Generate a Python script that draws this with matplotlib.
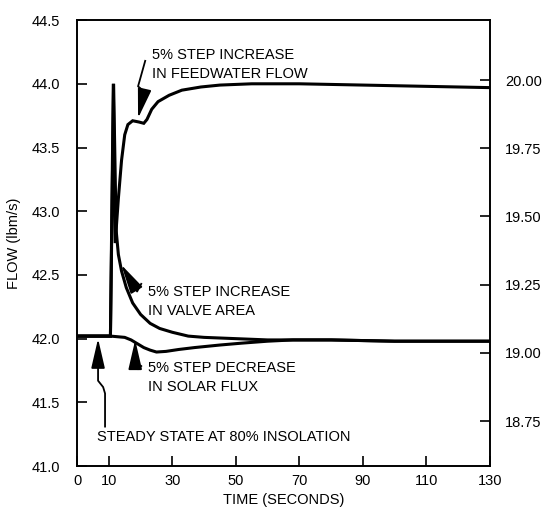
import matplotlib
matplotlib.use("Agg")
import matplotlib.pyplot as plt
from matplotlib.ticker import FormatStrFormatter

plt.rcParams['font.family'] = ['Liberation Sans', 'DejaVu Sans']

# --- data (time in seconds, flow in lbm/s) ---
t_feed = [0, 10.5, 11.4, 12.0, 13.0, 14.0, 15.0, 16.0, 17.5, 19.5, 21.0, 22.0,
          23.5, 25.5, 29, 33, 39, 45, 55, 70, 90, 110, 130]
v_feed = [42.02, 42.02, 44.0, 42.75, 43.1, 43.4, 43.6, 43.68, 43.71, 43.70, 43.69, 43.72,
          43.80, 43.86, 43.91, 43.95, 43.975, 43.99, 44.0, 44.0, 43.99, 43.98, 43.97]

t_valve = [0, 10.5, 11.5, 12.3, 13.0, 14.0, 15.5, 17.5, 20, 23, 26, 30, 35, 40,
           50, 60, 80, 100, 130]
v_valve = [42.02, 42.02, 44.0, 42.85, 42.66, 42.53, 42.40, 42.28, 42.19, 42.12, 42.08,
           42.05, 42.02, 42.01, 42.0, 41.99, 41.99, 41.98, 41.98]

t_solar = [0, 10.5, 15, 17, 19, 21, 23, 25, 28, 32, 37, 45, 52, 60, 68, 80, 100, 130]
v_solar = [42.02, 42.02, 42.01, 41.99, 41.96, 41.93, 41.91, 41.895, 41.90, 41.915,
           41.93, 41.95, 41.965, 41.98, 41.99, 41.99, 41.98, 41.98]

x_ticks = [0, 10, 30, 50, 70, 90, 110, 130]
y_ticks = [41.0, 41.5, 42.0, 42.5, 43.0, 43.5, 44.0, 44.5]
y2_ticks = [18.75, 19.00, 19.25, 19.50, 19.75, 20.00]

fig = plt.figure(figsize=(5.43, 5.15), dpi=100)
ax = fig.add_axes([0.142, 0.095, 0.760, 0.866])
ax2 = ax.twinx()

lw = 2.2
ax.plot(t_feed, v_feed, color='black', lw=lw, solid_joinstyle='miter')
ax.plot(t_valve, v_valve, color='black', lw=lw, solid_joinstyle='miter')
ax.plot(t_solar, v_solar, color='black', lw=lw)

ax.set_xlim(0, 130)
ax.set_ylim(41.0, 44.5)
ax.set_xticks(x_ticks)
ax.set_yticks(y_ticks)
ax.yaxis.set_major_formatter(FormatStrFormatter('%.1f'))
ax.tick_params(axis='x', direction='in', length=7, width=1.2, pad=6, labelsize=10.5)
ax.tick_params(axis='y', direction='in', length=7, width=1.2, pad=12, labelsize=10.5)
for s in ax.spines.values():
    s.set_linewidth(1.2)

ax2.set_ylim(18.585, 20.22)
ax2.set_yticks(y2_ticks)
ax2.yaxis.set_major_formatter(FormatStrFormatter('%.2f'))
ax2.tick_params(axis='y', direction='in', length=7, width=1.2, pad=11, labelsize=10.5)
for s in ax2.spines.values():
    s.set_linewidth(1.2)

ax.set_xlabel('TIME (SECONDS)', fontsize=10.5, labelpad=3)
ax.set_ylabel('FLOW (lbm/s)', fontsize=10.5, labelpad=8)

# --- annotations with zigzag leaders ---
head = dict(arrowstyle='-|>,head_length=1.3,head_width=0.3', mutation_scale=14,
            color='black', lw=1.3, shrinkA=0, shrinkB=0)
txt = dict(fontsize=10.5, ha='left', va='center', linespacing=1.45)

# feedwater
ax.plot([21.45, 19.2, 21.1], [44.18, 43.98, 43.94], color='black', lw=1.3)
ax.annotate('', xy=(19.2, 43.73), xytext=(21.1, 43.94), arrowprops=head)
ax.text(23.5, 44.15, '5% STEP INCREASE\nIN FEEDWATER FLOW', **txt)

# valve area
ax.plot([20.2, 18.9, 18.0], [42.43, 42.37, 42.41], color='black', lw=1.3)
ax.annotate('', xy=(13.9, 42.58), xytext=(18.0, 42.41), arrowprops=head)
ax.text(22.4, 42.295, '5% STEP INCREASE\nIN VALVE AREA', **txt)

# solar flux
ax.plot([18.3, 18.3, 19.2, 20.2], [41.85, 41.79, 41.76, 41.785], color='black', lw=1.3)
ax.annotate('', xy=(18.3, 41.99), xytext=(18.3, 41.85), arrowprops=head)
ax.text(22.4, 41.695, '5% STEP DECREASE\nIN SOLAR FLUX', **txt)

# steady state
ax.plot([6.6, 6.6, 8.2, 8.8, 8.8], [41.83, 41.67, 41.62, 41.57, 41.31], color='black', lw=1.3)
ax.annotate('', xy=(6.6, 42.0), xytext=(6.6, 41.83), arrowprops=head)
ax.text(6.3, 41.23, 'STEADY STATE AT 80% INSOLATION', **txt)

fig.savefig('out.png', dpi=100)
